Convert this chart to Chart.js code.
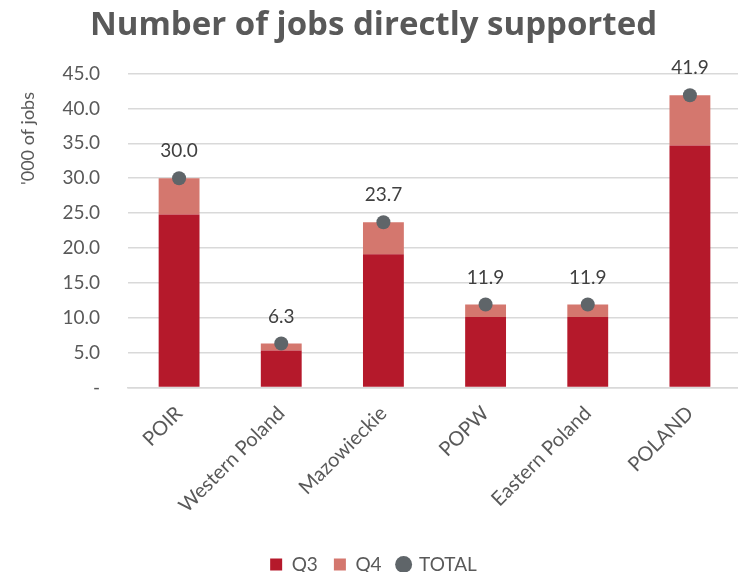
<!DOCTYPE html>
<html>
<head>
<meta charset="utf-8">
<script src="https://cdn.jsdelivr.net/npm/chart.js@4/dist/chart.umd.min.js"></script>
<style>
html,body{margin:0;padding:0;background:#fff;overflow:hidden;width:738px;height:572px;}
canvas{display:block;}
</style>
</head>
<body>
<canvas id="c" width="748" height="584"></canvas>
<script>
const categories = ["POIR", "Western Poland", "Mazowieckie", "POPW", "Eastern Poland", "POLAND"];
const q3 = [24.8, 5.3, 19.1, 10.1, 10.1, 34.7];
const q4 = [5.2, 1.0, 4.6, 1.8, 1.8, 7.2];
const total = [30.0, 6.3, 23.7, 11.9, 11.9, 41.9];
const yTicks = [0, 5, 10, 15, 20, 25, 30, 35, 40, 45];

const FONT = "Lato, 'Open Sans', sans-serif";
const GRAY = "#595959";

const labelPlugin = {
  id: 'totalLabels',
  afterDatasetsDraw(chart) {
    const ctx = chart.ctx;
    const meta = chart.getDatasetMeta(2);
    ctx.save();
    ctx.font = "19px " + FONT;
    ctx.fillStyle = "#404040";
    ctx.textAlign = "center";
    ctx.textBaseline = "middle";
    meta.data.forEach((pt, i) => {
      ctx.fillText(total[i].toFixed(1), pt.x, pt.y - 27);
    });
    ctx.restore();
  }
};

new Chart(document.getElementById('c'), {
  type: 'bar',
  data: {
    labels: categories,
    datasets: [
      { label: 'Q3', data: q3, backgroundColor: '#B5192B', stack: 'bars', order: 2,
        categoryPercentage: 1, barPercentage: 0.4 },
      { label: 'Q4', data: q4, backgroundColor: '#D4776E', stack: 'bars', order: 2,
        categoryPercentage: 1, barPercentage: 0.4 },
      { label: 'TOTAL', type: 'line', data: total, stack: 'total', order: 0,
        showLine: false, pointRadius: 7, pointHoverRadius: 7,
        backgroundColor: '#5F6569', borderColor: '#5F6569', borderWidth: 0,
        pointStyle: 'circle' }
    ]
  },
  options: {
    responsive: false,
    animation: false,
    layout: { padding: { left: 0, right: 1, top: 0, bottom: 0 } },
    plugins: {
      title: {
        display: true,
        text: 'Number of jobs directly supported',
        color: GRAY,
        font: { family: "'Open Sans', Lato, sans-serif", size: 33, weight: 'bold' },
        padding: { top: 6, bottom: 28 }
      },
      legend: {
        position: 'bottom',
        labels: {
          color: GRAY,
          font: { family: FONT, size: 19 },
          usePointStyle: true,
          boxWidth: 12, boxHeight: 12,
          padding: 16,
          generateLabels(chart) {
            return chart.data.datasets.map((d, i) => ({
              text: d.label,
              fillStyle: d.backgroundColor,
              strokeStyle: d.backgroundColor,
              lineWidth: 0,
              pointStyle: i === 2 ? 'circle' : 'rect',
              fontColor: GRAY,
              datasetIndex: i,
              hidden: false
            }));
          }
        }
      },
      tooltip: { enabled: false }
    },
    scales: {
      x: {
        stacked: true,
        grid: { display: false },
        border: { color: '#D9D9D9', width: 1.5 },
        afterFit(scale) { scale.height = 151.5; },
        ticks: {
          color: GRAY,
          font: { family: FONT, size: 20 },
          maxRotation: 45, minRotation: 45,
          padding: 6,
          autoSkip: false
        }
      },
      y: {
        stacked: true,
        min: 0, max: 45,
        afterBuildTicks(scale) { scale.ticks = yTicks.map(v => ({ value: v })); },
        afterFit(scale) { scale.width = 128; },
        grid: { color: '#D9D9D9', lineWidth: 1.5, drawTicks: false },
        border: { display: false },
        ticks: {
          color: GRAY,
          font: { family: FONT, size: 19 },
          padding: 28,
          callback: (v) => v === 0 ? '-' : Number(v).toFixed(1)
        },
        title: {
          display: true,
          text: "'000 of jobs    ",
          align: 'end',
          color: GRAY,
          font: { family: FONT, size: 18 },
          padding: { top: 17, bottom: 0 }
        }
      }
    }
  },
  plugins: [labelPlugin]
});
</script>
</body>
</html>
